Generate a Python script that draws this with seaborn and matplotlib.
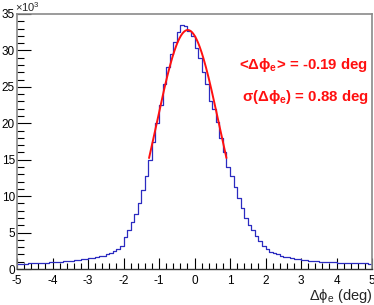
import numpy as np
import pandas as pd
import matplotlib
matplotlib.use('Agg')
import matplotlib.pyplot as plt
from matplotlib.ticker import MultipleLocator
import seaborn as sns

# histogram range (deg), bin width, and counts per bin (in units of 10^3)
x_range = (-5.0, 5.0)
bin_width = 0.1
counts_k = [
    0.70, 0.72, 0.74, 0.76, 0.78, 0.80, 0.83, 0.86, 0.89, 0.92,
    0.95, 0.98, 1.02, 1.06, 1.10, 1.15, 1.20, 1.26, 1.32, 1.40,
    1.48, 1.55, 1.63, 1.72, 1.85, 2.05, 2.25, 2.50, 2.80, 3.20,
    4.40, 5.30, 6.40, 7.50, 9.00, 10.8, 12.7, 15.0, 17.4, 20.0,
    22.5, 25.4, 27.7, 29.5, 31.1, 32.5, 33.5, 33.3, 32.6, 32.0,
    30.4, 29.0, 27.0, 25.4, 23.0, 22.0, 20.2, 18.0, 16.0, 14.0,
    12.8, 11.2, 9.80, 8.40, 7.00, 6.00, 5.30, 4.50, 3.80, 3.10,
    2.70, 2.40, 2.20, 2.00, 1.85, 1.70, 1.58, 1.48, 1.40, 1.32,
    1.25, 1.19, 1.14, 1.09, 1.05, 1.01, 0.98, 0.95, 0.92, 0.90,
    0.88, 0.86, 0.84, 0.82, 0.80, 0.79, 0.78, 0.77, 0.76, 0.75,
]

# gaussian fit result
fit_mean = -0.19
fit_sigma = 0.88
fit_amp_k = 32.8
fit_range = (-1.28, 0.90)

centers = x_range[0] + bin_width * (np.arange(len(counts_k)) + 0.5)
hist_df = pd.DataFrame({'dphi': centers, 'n': counts_k})

fx = np.linspace(fit_range[0], fit_range[1], 200)
fit_df = pd.DataFrame({'dphi': fx,
                       'n': fit_amp_k * np.exp(-0.5 * ((fx - fit_mean) / fit_sigma) ** 2)})

sns.set_style('white')
plt.rcParams['font.family'] = ['Liberation Sans', 'DejaVu Sans']
plt.rcParams['mathtext.fontset'] = 'custom'
plt.rcParams['mathtext.rm'] = 'Liberation Sans'
plt.rcParams['mathtext.it'] = 'Liberation Sans:italic'
plt.rcParams['mathtext.bf'] = 'Liberation Sans:bold'
plt.rcParams['axes.unicode_minus'] = False

fig = plt.figure(figsize=(3.74, 3.05), dpi=100)
ax = fig.add_axes([17 / 374, 36 / 305, 355 / 374, 255 / 305])

sns.histplot(data=hist_df, x='dphi', weights='n', binwidth=bin_width, binrange=x_range,
             element='step', fill=False, color='#2b2bc0', linewidth=0.9, ax=ax)
sns.lineplot(data=fit_df, x='dphi', y='n', color='#ff1010', linewidth=1.4, ax=ax)

ax.set_xlim(-5, 5)
ax.set_ylim(0, 35)
ax.xaxis.set_major_locator(MultipleLocator(1))
ax.xaxis.set_minor_locator(MultipleLocator(0.2))
ax.yaxis.set_major_locator(MultipleLocator(5))
ax.yaxis.set_minor_locator(MultipleLocator(1))
ax.tick_params(which='both', bottom=True, left=True, top=False, right=False,
               direction='in', color='black', width=0.8, labelcolor='black')
ax.tick_params(which='major', length=8, labelsize=8.5)
ax.tick_params(which='minor', length=4)
ax.tick_params(axis='x', which='major', pad=4)
ax.tick_params(axis='y', which='major', length=10, pad=1.5)
ax.tick_params(axis='y', which='minor', length=5)
for side in ['top', 'right', 'left']:
    ax.spines[side].set_color('#8a8a8a')
    ax.spines[side].set_linewidth(1.2)
ax.spines['bottom'].set_color('#333333')
ax.spines['bottom'].set_linewidth(1.0)

ax.set_ylabel('')
ax.set_xlabel(r'Δϕ$_\mathregular{e}$ (deg)', fontsize=10.5, loc='right', labelpad=0)

fig.text(15 / 374, 1 - 0 / 305, r'×10$^\mathregular{3}$', fontsize=8, ha='left', va='top')

ax.text(0.99, 0.80, r'<Δϕ$_\mathbf{e}$> = -0.19 deg', transform=ax.transAxes,
        color='#ff1010', fontsize=10.8, fontweight='bold', ha='right', va='center')
ax.text(0.99, 0.675, r'σ(Δϕ$_\mathbf{e}$) = 0.88 deg', transform=ax.transAxes,
        color='#ff1010', fontsize=10.8, fontweight='bold', ha='right', va='center')

fig.savefig('out.png', dpi=100)
